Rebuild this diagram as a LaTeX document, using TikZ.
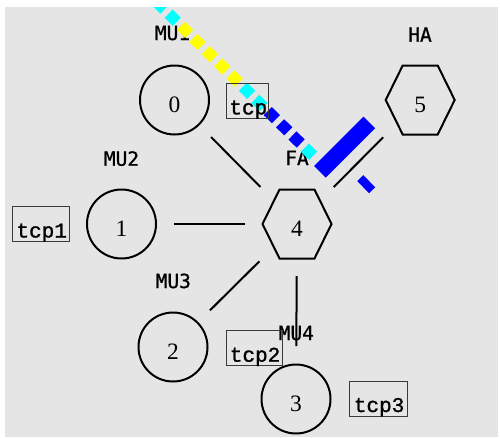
\documentclass[tikz,border=0pt]{standalone}
\usepackage{fontspec}
\usetikzlibrary{calc}
\newfontfamily\labfont[FakeBold=0.9]{DejaVu Sans Mono}
\newfontfamily\numfont{Liberation Serif}
\newfontfamily\tcpfont[FakeBold=1.2]{Liberation Mono}
\definecolor{namgrey}{HTML}{E5E5E5}
\definecolor{boxgrey}{HTML}{3A3A3A}
\definecolor{pcyan}{HTML}{00FFFF}
\definecolor{pyellow}{HTML}{FFFF00}
\definecolor{pblue}{HTML}{0000FF}
\tikzset{
  mucircle/.style={circle, draw, line width=2pt, minimum size=69pt, inner sep=0pt,
    font=\numfont\fontsize{23.5}{23.5}\selectfont, text height=24pt, text depth=0pt},
  hexcore/.style={circle, minimum size=69pt, inner sep=0pt,
    font=\numfont\fontsize{23.5}{23.5}\selectfont, text height=24pt, text depth=0pt},
  hexline/.style={line width=2pt, line join=miter},
  link/.style={line width=2pt},
  nodelabel/.style={anchor=base, inner sep=0pt, font=\labfont\fontsize{19.5}{19.5}\selectfont},
  agentbox/.style={draw=boxgrey, line width=1pt, inner sep=0pt, anchor=north west, minimum height=35pt},
  agenttext/.style={anchor=base west, inner sep=0pt, font=\tcpfont\fontsize{21}{21}\selectfont},
  pkt/.style={minimum size=11.5pt, inner sep=0pt, rotate=-44.5},
}
% flattened hexagon around a named node
\newcommand\drawhex[1]{%
  \draw[hexline] ($(#1)+(-34.5,0)$) -- ($(#1)+(-17.5,-34.5)$) -- ($(#1)+(17.5,-34.5)$)
    -- ($(#1)+(34.5,0)$) -- ($(#1)+(17.5,34.5)$) -- ($(#1)+(-17.5,34.5)$) -- cycle;}
\begin{document}
\begin{tikzpicture}[x=1pt,y=-1pt]
  \useasboundingbox (0,0) rectangle (500,437);
  \fill[white] (0,0) rectangle (500,437);
  \fill[namgrey] (5,7) rectangle (498,437);

  % nodes
  \node[mucircle] (n0) at (174.5,100) {0};
  \node[mucircle] (n1) at (121.5,224) {1};
  \node[mucircle] (n2) at (173,347) {2};
  \node[mucircle] (n3) at (296,399) {3};
  \node[hexcore] (n4) at (297,224) {4};
  \node[hexcore] (n5) at (420.2,100) {5};
  \drawhex{n4}
  \drawhex{n5}

  % node labels
  \node[nodelabel] (l0) at (172.5,40) {MU1};
  \node[nodelabel] (l1) at (121.5,165.7) {MU2};
  \node[nodelabel] (l2) at (173.3,288) {MU3};
  \node[nodelabel] (l3) at (296.3,340) {MU4};
  \node[nodelabel] (l4) at (297,165) {FA};
  \node[nodelabel] (l5) at (420,41.7) {HA};

  % links
  \draw[link] ($(n0)!52pt!(n4)$) -- ($(n4)!52pt!(n0)$);
  \draw[link] ($(n1)!52.5pt!(n4)$) -- ($(n4)!52pt!(n1)$);
  \draw[link] ($(n2)!52pt!(n4)$) -- ($(n4)!53pt!(n2)$);
  \draw[link] ($(n3)!53pt!(n4)$) -- ($(n4)!52pt!(n3)$);
  \draw[link] ($(n4)!52pt!(n5)$) -- ($(n5)!52.5pt!(n4)$);

  % packets in flight
  \begin{scope}
    \clip (5,7) rectangle (498,437);
    \foreach \i/\c in {-1/pcyan,0/pcyan,1/pyellow,2/pyellow,3/pyellow,4/pyellow,5/pyellow,
                       6/pcyan,7/pcyan,8/pblue,9/pblue,10/pblue,11/pcyan}
      \node[pkt, fill=\c] (p\i) at ({172.7+12.39*\i},{17.7+12.18*\i}) {};
  \end{scope}
  \node[fill=pblue, minimum width=70pt, minimum height=16.5pt, inner sep=0pt, rotate=45] (q) at (344.6,147.1) {};
  \node[fill=pblue, minimum width=17pt, minimum height=8.5pt, inner sep=0pt, rotate=-46] (d) at (366.2,184.2) {};

  % agents
  \node[agentbox, minimum width=42.6pt] (b0) at (225.7,82.7) {};
  \node[agenttext] (a0) at ($(b0.south west)+(3.5,-4.3)$) {tcp};
  \node[agentbox, minimum width=57pt] (b1) at (12.3,206) {};
  \node[agenttext] (a1) at ($(b1.south west)+(4,-4.5)$) {tcp1};
  \node[agentbox, minimum width=56.6pt] (b2) at (225.7,330) {};
  \node[agenttext] (a2) at ($(b2.south west)+(4,-4.3)$) {tcp2};
  \node[agentbox, minimum width=58pt] (b3) at (348.7,381) {};
  \node[agenttext] (a3) at ($(b3.south west)+(5,-5)$) {tcp3};
\end{tikzpicture}
\end{document}
